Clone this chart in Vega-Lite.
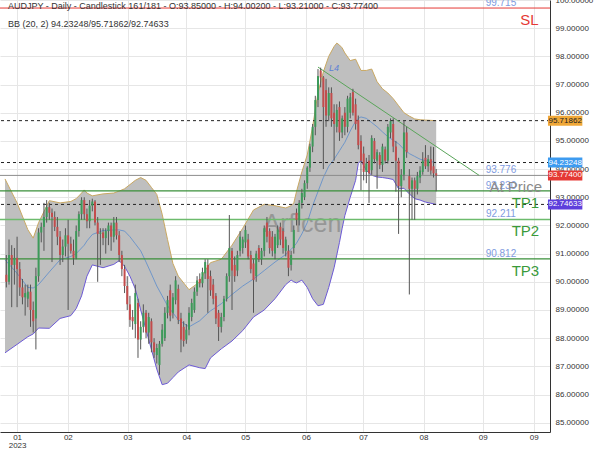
{
 "$schema": "https://vega.github.io/schema/vega-lite/v6.json",
 "width": 550, "height": 432,
 "autosize": {"type": "none"},
 "padding": {"left": 0, "top": 0, "right": 50, "bottom": 18},
 "background": "white",
 "config": {"view": {"stroke": null}, "font": "Liberation Sans", "axis": {"labelOverlap": false}},
 "resolve": {"scale": {"color": "independent"}},
 "datasets": {
  "c": [
   {"i":0,"o":90.25,"h":90.95,"l":89.8,"c":90.0},{"i":1,"o":90.0,"h":91.5,"l":89.9,"c":90.95},{"i":2,"o":90.95,"h":91.3,"l":89.1,"c":90.6},{"i":3,"o":90.6,"h":91.2,"l":89.9,"c":90.85},{"i":4,"o":90.85,"h":91.6,"l":89.1,"c":90.45},
   {"i":5,"o":90.45,"h":90.7,"l":89.5,"c":89.8},{"i":6,"o":89.8,"h":90.1,"l":89.2,"c":89.45},{"i":7,"o":89.45,"h":89.9,"l":88.8,"c":89.6},{"i":8,"o":89.4,"h":89.9,"l":89.1,"c":89.65},{"i":9,"o":89.65,"h":89.9,"l":88.4,"c":89.0},
   {"i":10,"o":89.0,"h":89.3,"l":88.2,"c":88.6},{"i":11,"o":88.7,"h":90.5,"l":87.6,"c":90.2},{"i":12,"o":90.2,"h":91.9,"l":90.0,"c":91.75},{"i":13,"o":91.75,"h":92.1,"l":91.4,"c":91.95},{"i":14,"o":91.95,"h":92.8,"l":91.1,"c":92.3},
   {"i":15,"o":92.3,"h":92.9,"l":92.1,"c":92.65},{"i":16,"o":92.65,"h":92.8,"l":92.2,"c":92.45},{"i":17,"o":92.45,"h":92.6,"l":90.7,"c":92.3},{"i":18,"o":92.3,"h":92.5,"l":91.8,"c":91.95},{"i":19,"o":91.95,"h":92.3,"l":91.3,"c":91.6},
   {"i":20,"o":91.6,"h":91.8,"l":90.6,"c":90.95},{"i":21,"o":90.95,"h":91.5,"l":90.7,"c":91.25},{"i":22,"o":91.25,"h":91.9,"l":90.9,"c":91.65},{"i":23,"o":91.65,"h":92.2,"l":89.0,"c":91.35},{"i":24,"o":91.35,"h":91.6,"l":91.0,"c":91.1},
   {"i":25,"o":91.1,"h":91.5,"l":90.6,"c":90.85},{"i":26,"o":90.85,"h":92.0,"l":90.8,"c":91.8},{"i":27,"o":91.8,"h":92.5,"l":91.6,"c":92.4},{"i":28,"o":92.4,"h":93.0,"l":92.2,"c":92.9},{"i":29,"o":92.9,"h":93.0,"l":92.2,"c":92.4},
   {"i":30,"o":92.4,"h":92.6,"l":91.9,"c":92.15},{"i":31,"o":92.15,"h":92.9,"l":91.9,"c":92.7},{"i":32,"o":92.7,"h":92.95,"l":92.5,"c":92.85},{"i":33,"o":92.85,"h":92.9,"l":92.0,"c":92.1},{"i":34,"o":92.1,"h":92.3,"l":90.0,"c":91.7},
   {"i":35,"o":91.7,"h":91.9,"l":90.6,"c":91.75},{"i":36,"o":91.75,"h":91.9,"l":91.3,"c":91.55},{"i":37,"o":91.55,"h":91.9,"l":91.0,"c":91.8},{"i":38,"o":91.8,"h":92.1,"l":91.3,"c":92.0},{"i":39,"o":92.0,"h":92.1,"l":91.1,"c":91.6},
   {"i":40,"o":91.6,"h":92.3,"l":91.4,"c":92.1},{"i":41,"o":92.1,"h":92.3,"l":91.5,"c":91.65},{"i":42,"o":91.65,"h":91.8,"l":90.7,"c":90.95},{"i":43,"o":90.95,"h":91.1,"l":90.2,"c":90.45},{"i":44,"o":90.45,"h":90.6,"l":89.6,"c":89.85},
   {"i":45,"o":89.85,"h":90.2,"l":89.0,"c":89.2},{"i":46,"o":89.2,"h":89.5,"l":88.4,"c":88.65},{"i":47,"o":88.75,"h":89.0,"l":88.3,"c":88.6},{"i":48,"o":88.5,"h":89.9,"l":88.0,"c":89.6},{"i":49,"o":89.25,"h":89.4,"l":87.3,"c":87.95},
   {"i":50,"o":87.95,"h":88.6,"l":87.6,"c":88.4},{"i":51,"o":88.4,"h":89.2,"l":88.2,"c":88.9},{"i":52,"o":88.9,"h":89.0,"l":88.0,"c":88.2},{"i":53,"o":88.2,"h":88.9,"l":87.8,"c":88.75},{"i":54,"o":88.6,"h":88.7,"l":87.5,"c":87.85},
   {"i":55,"o":87.85,"h":88.0,"l":87.3,"c":87.5},{"i":56,"o":87.4,"h":87.8,"l":87.1,"c":87.65},{"i":57,"o":87.05,"h":87.9,"l":86.7,"c":87.8},{"i":58,"o":87.8,"h":88.5,"l":87.7,"c":88.3},{"i":59,"o":88.0,"h":89.1,"l":87.9,"c":88.9},
   {"i":60,"o":88.9,"h":89.5,"l":88.7,"c":89.35},{"i":61,"o":89.7,"h":89.9,"l":88.6,"c":88.8},{"i":62,"o":88.9,"h":89.6,"l":88.7,"c":89.45},{"i":63,"o":89.35,"h":90.2,"l":89.2,"c":90.05},{"i":64,"o":89.75,"h":89.9,"l":88.5,"c":88.65},
   {"i":65,"o":88.7,"h":88.9,"l":87.5,"c":87.95},{"i":66,"o":88.4,"h":88.6,"l":87.7,"c":87.9},{"i":67,"o":87.95,"h":88.5,"l":87.8,"c":88.3},{"i":68,"o":88.3,"h":89.1,"l":88.1,"c":88.9},{"i":69,"o":88.75,"h":89.4,"l":88.6,"c":89.25},
   {"i":70,"o":89.0,"h":89.8,"l":88.9,"c":89.65},{"i":71,"o":89.65,"h":90.2,"l":89.5,"c":90.05},{"i":72,"o":90.1,"h":90.3,"l":89.8,"c":89.95},{"i":73,"o":89.95,"h":90.5,"l":89.8,"c":90.35},{"i":74,"o":90.3,"h":90.8,"l":90.1,"c":90.7},
   {"i":75,"o":90.6,"h":90.8,"l":88.9,"c":90.1},{"i":76,"o":90.2,"h":90.4,"l":89.5,"c":89.7},{"i":77,"o":89.9,"h":90.1,"l":89.2,"c":89.4},{"i":78,"o":89.5,"h":89.6,"l":88.5,"c":88.7},{"i":79,"o":88.9,"h":89.0,"l":87.9,"c":88.4},
   {"i":80,"o":88.4,"h":88.9,"l":88.2,"c":88.75},{"i":81,"o":88.75,"h":89.5,"l":88.6,"c":89.4},{"i":82,"o":89.4,"h":90.3,"l":89.3,"c":90.2},{"i":83,"o":90.2,"h":92.37,"l":90.0,"c":91.2},{"i":84,"o":91.1,"h":91.2,"l":89.0,"c":90.4},
   {"i":85,"o":90.6,"h":90.9,"l":90.0,"c":90.2},{"i":86,"o":90.4,"h":91.1,"l":90.2,"c":90.95},{"i":87,"o":91.1,"h":91.8,"l":90.9,"c":91.6},{"i":88,"o":91.2,"h":91.6,"l":91.0,"c":91.5},{"i":89,"o":91.4,"h":92.0,"l":91.2,"c":91.84},
   {"i":90,"o":91.5,"h":91.7,"l":90.8,"c":90.9},{"i":91,"o":90.95,"h":91.1,"l":90.3,"c":90.45},{"i":92,"o":90.65,"h":90.8,"l":88.9,"c":90.06},{"i":93,"o":90.2,"h":91.1,"l":90.0,"c":91.0},{"i":94,"o":91.2,"h":91.3,"l":90.7,"c":90.8},
   {"i":95,"o":90.8,"h":91.2,"l":90.6,"c":91.1},{"i":96,"o":91.1,"h":92.0,"l":90.9,"c":91.9},{"i":97,"o":92.1,"h":92.3,"l":91.4,"c":91.6},{"i":98,"o":91.8,"h":91.9,"l":91.0,"c":91.2},{"i":99,"o":91.6,"h":91.8,"l":90.9,"c":91.1},
   {"i":100,"o":91.0,"h":91.7,"l":90.8,"c":91.6},{"i":101,"o":91.3,"h":92.0,"l":91.2,"c":91.85},{"i":102,"o":91.95,"h":92.1,"l":91.3,"c":91.5},{"i":103,"o":91.8,"h":91.9,"l":91.0,"c":91.2},{"i":104,"o":91.1,"h":91.6,"l":90.9,"c":91.5},
   {"i":105,"o":91.1,"h":91.3,"l":90.2,"c":90.5},{"i":106,"o":90.6,"h":91.1,"l":90.4,"c":90.95},{"i":107,"o":91.2,"h":92.0,"l":91.0,"c":91.84},{"i":108,"o":92.45,"h":92.6,"l":92.0,"c":92.2},{"i":109,"o":92.2,"h":92.9,"l":92.0,"c":92.8},
   {"i":110,"o":92.8,"h":93.3,"l":92.6,"c":93.15},{"i":111,"o":93.0,"h":93.6,"l":92.9,"c":93.5},{"i":112,"o":93.5,"h":94.1,"l":93.3,"c":94.05},{"i":113,"o":94.05,"h":94.9,"l":93.9,"c":94.8},{"i":114,"o":94.8,"h":95.6,"l":94.6,"c":95.5},
   {"i":115,"o":95.5,"h":96.6,"l":95.2,"c":96.45},{"i":116,"o":96.45,"h":97.55,"l":96.2,"c":97.3},{"i":117,"o":97.5,"h":97.6,"l":96.9,"c":97.25},{"i":118,"o":97.25,"h":97.3,"l":94.0,"c":96.2},{"i":119,"o":96.8,"h":97.2,"l":95.5,"c":95.9},
   {"i":120,"o":95.9,"h":96.9,"l":95.7,"c":96.7},{"i":121,"o":96.7,"h":96.9,"l":95.5,"c":95.8},{"i":122,"o":96.0,"h":96.3,"l":94.3,"c":95.6},{"i":123,"o":95.5,"h":96.3,"l":95.3,"c":96.1},{"i":124,"o":96.2,"h":96.4,"l":95.0,"c":95.3},
   {"i":125,"o":95.3,"h":95.9,"l":95.1,"c":95.8},{"i":126,"o":96.0,"h":96.2,"l":95.2,"c":95.5},{"i":127,"o":95.5,"h":96.6,"l":95.3,"c":96.5},{"i":128,"o":96.0,"h":96.7,"l":95.8,"c":96.55},{"i":129,"o":96.73,"h":96.85,"l":95.9,"c":96.0},
   {"i":130,"o":96.3,"h":96.5,"l":95.4,"c":95.6},{"i":131,"o":95.74,"h":95.9,"l":94.7,"c":94.85},{"i":132,"o":95.0,"h":95.2,"l":93.25,"c":94.3},{"i":133,"o":94.55,"h":94.8,"l":93.6,"c":93.9},{"i":134,"o":93.9,"h":94.4,"l":93.5,"c":94.2},
   {"i":135,"o":94.3,"h":94.5,"l":92.8,"c":93.85},{"i":136,"o":93.96,"h":95.2,"l":93.8,"c":95.1},{"i":137,"o":95.0,"h":95.1,"l":94.2,"c":94.35},{"i":138,"o":94.3,"h":94.7,"l":93.3,"c":94.6},{"i":139,"o":94.5,"h":94.6,"l":94.0,"c":94.15},
   {"i":140,"o":94.15,"h":94.9,"l":93.9,"c":94.8},{"i":141,"o":94.7,"h":94.8,"l":94.2,"c":94.3},{"i":142,"o":94.3,"h":95.6,"l":94.2,"c":95.5},{"i":143,"o":95.3,"h":95.8,"l":95.1,"c":95.7},{"i":144,"o":95.6,"h":95.8,"l":94.6,"c":94.8},
   {"i":145,"o":94.8,"h":95.0,"l":93.2,"c":94.3},{"i":146,"o":94.3,"h":94.4,"l":91.7,"c":93.4},{"i":147,"o":93.4,"h":94.0,"l":93.0,"c":93.8},{"i":148,"o":93.8,"h":95.74,"l":93.6,"c":95.3},{"i":149,"o":95.3,"h":95.5,"l":94.4,"c":94.6},
   {"i":150,"o":93.75,"h":94.0,"l":89.55,"c":93.3},{"i":151,"o":93.3,"h":93.7,"l":92.2,"c":93.6},{"i":152,"o":93.6,"h":93.7,"l":92.2,"c":93.3},{"i":153,"o":93.3,"h":93.9,"l":93.1,"c":93.75},{"i":154,"o":93.7,"h":94.1,"l":93.5,"c":93.95},
   {"i":155,"o":93.9,"h":94.6,"l":93.8,"c":94.3},{"i":156,"o":94.4,"h":94.85,"l":94.0,"c":94.1},{"i":157,"o":94.1,"h":94.5,"l":93.9,"c":94.35},{"i":158,"o":94.35,"h":94.8,"l":93.8,"c":93.95},{"i":159,"o":94.1,"h":94.78,"l":93.7,"c":93.85},
   {"i":160,"o":93.85,"h":94.002,"l":93.21,"c":93.774}
  ],
  "bb": [
   {"i":-0.5,"u":93.65,"m":90.78,"l":87.48},{"i":4,"u":92.8,"m":90.3,"l":87.78},{"i":8,"u":91.85,"m":89.8,"l":88.05},{"i":10,"u":91.55,"m":89.78,"l":88.15},{"i":12,"u":92.1,"m":89.9,"l":88.36},
   {"i":16,"u":92.88,"m":90.35,"l":88.35},{"i":20,"u":92.8,"m":90.78,"l":88.7},{"i":24,"u":92.85,"m":90.9,"l":88.8},{"i":26,"u":92.95,"m":91.0,"l":89.05},{"i":28,"u":93.15,"m":91.2,"l":89.5},
   {"i":29,"u":93.26,"m":91.3,"l":89.85},{"i":30,"u":93.15,"m":91.45,"l":90.2},{"i":32,"u":93.05,"m":91.68,"l":90.6},{"i":36,"u":93.12,"m":91.82,"l":90.5},{"i":40,"u":93.15,"m":91.84,"l":90.62},
   {"i":42,"u":93.22,"m":91.84,"l":90.75},{"i":44,"u":93.3,"m":91.8,"l":90.55},{"i":46,"u":93.45,"m":91.6,"l":90.2},{"i":48,"u":93.6,"m":91.35,"l":89.75},{"i":50,"u":93.7,"m":91.1,"l":89.0},
   {"i":52,"u":93.6,"m":90.7,"l":88.3},{"i":54,"u":93.35,"m":90.28,"l":87.6},{"i":56,"u":93.1,"m":89.85,"l":86.9},{"i":58,"u":92.4,"m":89.5,"l":86.35},{"i":60,"u":91.5,"m":89.15,"l":86.4},
   {"i":62,"u":90.65,"m":88.9,"l":86.6},{"i":64,"u":90.2,"m":88.65,"l":86.8},{"i":68,"u":89.72,"m":88.4,"l":87.05},{"i":72,"u":90.0,"m":88.62,"l":86.95},{"i":74,"u":90.4,"m":88.8,"l":86.92},
   {"i":76,"u":90.68,"m":88.97,"l":87.3},{"i":80,"u":90.8,"m":89.22,"l":87.62},{"i":84,"u":91.3,"m":89.55,"l":87.9},{"i":88,"u":91.9,"m":89.85,"l":88.27},{"i":92,"u":92.55,"m":90.1,"l":88.75},
   {"i":96,"u":92.75,"m":90.4,"l":89.0},{"i":100,"u":92.7,"m":90.7,"l":89.4},{"i":104,"u":92.62,"m":90.97,"l":89.9},{"i":106,"u":92.7,"m":91.15,"l":90.06},{"i":107,"u":92.8,"m":91.25,"l":90.0},
   {"i":108,"u":93.2,"m":91.37,"l":89.96},{"i":110,"u":93.9,"m":91.7,"l":90.06},{"i":112,"u":94.5,"m":92.1,"l":89.8},{"i":114,"u":95.5,"m":92.7,"l":89.4},{"i":116,"u":96.7,"m":93.2,"l":89.15},
   {"i":118,"u":97.45,"m":93.7,"l":89.2},{"i":120,"u":98.0,"m":94.1,"l":89.8},{"i":122,"u":98.35,"m":94.35,"l":90.5},{"i":123,"u":98.47,"m":94.5,"l":90.95},{"i":124,"u":98.4,"m":94.65,"l":91.4},
   {"i":125,"u":98.3,"m":94.8,"l":91.9},{"i":126,"u":98.12,"m":94.95,"l":92.35},{"i":128,"u":97.85,"m":95.35,"l":93.0},{"i":130,"u":97.9,"m":95.7,"l":93.6},{"i":131,"u":97.7,"m":95.8,"l":94.2},
   {"i":132,"u":97.5,"m":95.85,"l":94.3},{"i":134,"u":97.5,"m":95.8,"l":93.95},{"i":136,"u":97.55,"m":95.65,"l":93.78},{"i":138,"u":97.1,"m":95.5,"l":93.72},{"i":140,"u":96.85,"m":95.32,"l":93.7},
   {"i":142,"u":96.7,"m":95.15,"l":93.67},{"i":144,"u":96.5,"m":95.02,"l":93.63},{"i":146,"u":96.25,"m":94.9,"l":93.3},{"i":148,"u":96.0,"m":94.7,"l":93.32},{"i":150,"u":95.88,"m":94.55,"l":93.12},
   {"i":152,"u":95.78,"m":94.45,"l":92.95},{"i":154,"u":95.75,"m":94.35,"l":92.9},{"i":156,"u":95.74,"m":94.3,"l":92.83},{"i":160,"u":95.71862,"m":94.23248,"l":92.74633}
  ],
  "vals": [
   {"i":184.1,"p":99.715,"t":"99.715"},{"i":184.1,"p":93.776,"t":"93.776"},{"i":184.1,"p":93.23,"t":"93.230"},{"i":184.1,"p":92.211,"t":"92.211"},{"i":184.1,"p":90.812,"t":"90.812"}
  ],
  "names": [
   {"i":194.7,"p":99.715,"t":"SL","k":"sl"},{"i":189.6,"p":93.776,"t":"At Price","k":"ap"},{"i":193.2,"p":93.23,"t":"TP1","k":"tp"},{"i":193.2,"p":92.211,"t":"TP2","k":"tp"},{"i":193.2,"p":90.812,"t":"TP3","k":"tp"}
  ],
  "boxes": [
   {"p":95.71862,"k":"upper"},{"p":94.23248,"k":"mid"},{"p":93.774,"k":"close"},{"p":92.74633,"k":"lower"}
  ]
 },
 "layer": [
  {
   "data": {"name": "bb"},
   "mark": {"type": "area", "color": "#bfbfbf", "opacity": 1},
   "encoding": {
    "x": {"field": "i", "type": "quantitative", "title": null, "scale": {"domain": [-0.5, 200.5], "nice": false, "zero": false},
     "axis": {"title": null, "values": [4, 22.9, 45.1, 67, 88.9, 111.5, 132.8, 155.3, 177.3, 196.3], "tickCount": 20,
      "labelExpr": "datum.value < 10 ? ['01','2023'] : datum.value < 30 ? '02' : datum.value < 50 ? '03' : datum.value < 70 ? '04' : datum.value < 95 ? '05' : datum.value < 120 ? '06' : datum.value < 140 ? '07' : datum.value < 165 ? '08' : '09'",
      "grid": true, "gridColor": "#e6e6e6", "domainColor": "#333333", "ticks": false, "labelFontSize": 8, "labelColor": "#333333", "labelPadding": 1, "labelLineHeight": 8, "labelFlush": false, "labelBaseline": "top", "labelOverlap": false}},
    "y": {"field": "u", "type": "quantitative", "title": null, "scale": {"domain": [84.67, 100], "nice": false, "zero": false},
     "axis": {"orient": "right", "title": null, "values": [85,86,87,88,89,90,91,92,93,94,95,96,97,98,99,100], "tickCount": 30, "format": ".5f",
      "grid": true, "gridColor": "#e6e6e6", "domainColor": "#333333", "ticks": false, "labelFontSize": 8, "labelColor": "#333333", "labelPadding": 5, "labelOverlap": false}},
    "y2": {"field": "l"}
   }
  },
  {
   "data": {"name": "bb"},
   "mark": {"type": "line", "color": "#c9a862", "strokeWidth": 1},
   "encoding": {"x": {"field": "i", "type": "quantitative", "title": null}, "y": {"field": "u", "type": "quantitative", "title": null}}
  },
  {
   "data": {"name": "bb"},
   "mark": {"type": "line", "color": "#6c5ad6", "strokeWidth": 1},
   "encoding": {"x": {"field": "i", "type": "quantitative", "title": null}, "y": {"field": "l", "type": "quantitative", "title": null}}
  },
  {
   "data": {"name": "bb"},
   "mark": {"type": "line", "color": "#5b8ccc", "strokeWidth": 0.8},
   "encoding": {"x": {"field": "i", "type": "quantitative", "title": null}, "y": {"field": "m", "type": "quantitative", "title": null}}
  },
  {
   "data": {"values": [{"i": 110.2, "p": 92.05, "t": "Arficen"}]},
   "mark": {"type": "text", "fontSize": 25, "color": "#6f6f6f", "opacity": 0.5, "baseline": "middle"},
   "encoding": {"x": {"field": "i", "type": "quantitative", "title": null}, "y": {"field": "p", "type": "quantitative", "title": null}, "text": {"field": "t"}}
  },
  {
   "data": {"values": [{"p": 95.71862}, {"p": 94.23248}, {"p": 92.74633}]},
   "mark": {"type": "rule", "color": "#222222", "strokeDash": [3, 3], "strokeWidth": 1},
   "encoding": {"y": {"field": "p", "type": "quantitative", "title": null}}
  },
  {
   "data": {"values": [{"p": 93.776}]},
   "mark": {"type": "rule", "color": "#8c8c8c", "strokeWidth": 1},
   "encoding": {"y": {"field": "p", "type": "quantitative", "title": null}}
  },
  {
   "data": {"values": [{"p": 93.23}, {"p": 90.812}]},
   "mark": {"type": "rule", "color": "#3a8f3a", "strokeWidth": 1.2},
   "encoding": {"y": {"field": "p", "type": "quantitative", "title": null}}
  },
  {
   "data": {"values": [{"p": 92.211}]},
   "mark": {"type": "rule", "color": "#6dbb6d", "strokeWidth": 1.5},
   "encoding": {"y": {"field": "p", "type": "quantitative", "title": null}}
  },
  {
   "data": {"values": [{"p": 99.715}]},
   "mark": {"type": "rule", "color": "#e53935", "strokeWidth": 1},
   "encoding": {"y": {"field": "p", "type": "quantitative", "title": null}}
  },
  {
   "data": {"values": [{"i": 116, "p": 97.62}, {"i": 176, "p": 93.776}]},
   "mark": {"type": "line", "color": "#5aa55a", "strokeWidth": 1},
   "encoding": {"x": {"field": "i", "type": "quantitative", "title": null}, "y": {"field": "p", "type": "quantitative", "title": null}}
  },
  {
   "data": {"name": "c"},
   "mark": {"type": "rule", "color": "#555555", "strokeWidth": 1},
   "encoding": {"x": {"field": "i", "type": "quantitative", "title": null}, "y": {"field": "l", "type": "quantitative", "title": null}, "y2": {"field": "h"}}
  },
  {
   "data": {"name": "c"},
   "mark": {"type": "bar", "size": 2},
   "encoding": {
    "x": {"field": "i", "type": "quantitative", "title": null},
    "y": {"field": "o", "type": "quantitative", "title": null},
    "y2": {"field": "c"},
    "color": {"condition": {"test": "datum.c >= datum.o", "value": "#3d9a5a"}, "value": "#c34c4c"}
   }
  },
  {
   "data": {"name": "vals"},
   "mark": {"type": "text", "fontSize": 10, "color": "#7f9be0", "dy": -5, "baseline": "middle", "align": "center"},
   "encoding": {"x": {"field": "i", "type": "quantitative", "title": null}, "y": {"field": "p", "type": "quantitative", "title": null}, "text": {"field": "t"}}
  },
  {
   "data": {"name": "names"},
   "mark": {"type": "text", "fontSize": 15, "dy": 12, "baseline": "middle", "align": "center"},
   "encoding": {
    "x": {"field": "i", "type": "quantitative", "title": null}, "y": {"field": "p", "type": "quantitative", "title": null}, "text": {"field": "t"},
    "color": {"field": "k", "type": "nominal", "scale": {"domain": ["sl", "ap", "tp"], "range": ["#e53935", "#8a8a8a", "#3a9a3a"]}, "legend": null}
   }
  },
  {
   "data": {"values": [{"i": 122, "p": 97.6, "t": "L4"}]},
   "mark": {"type": "text", "fontSize": 9, "color": "#5b7fd6", "fontStyle": "italic", "baseline": "middle"},
   "encoding": {"x": {"field": "i", "type": "quantitative", "title": null}, "y": {"field": "p", "type": "quantitative", "title": null}, "text": {"field": "t"}}
  },
  {
   "data": {"values": [{"t": "AUDJPY - Daily - Candlestick   161/181 - O:93.85000 - H:94.00200 - L:93.21000 - C:93.77400", "p": 99.787}, {"t": "BB (20, 2)   94.23248/95.71862/92.74633", "p": 99.148}]},
   "mark": {"type": "text", "fontSize": 9, "color": "#333333", "align": "left", "baseline": "middle", "dx": 3},
   "encoding": {"x": {"datum": -0.5, "type": "quantitative"}, "y": {"field": "p", "type": "quantitative", "title": null}, "text": {"field": "t"}}
  },
  {
   "data": {"name": "boxes"},
   "mark": {"type": "rect", "yOffset": -5, "y2Offset": 5},
   "encoding": {
    "x": {"datum": 201.6, "type": "quantitative"}, "x2": {"datum": 214.4},
    "y": {"field": "p", "type": "quantitative", "title": null}, "y2": {"field": "p"},
    "color": {"field": "k", "type": "nominal", "scale": {"domain": ["upper", "mid", "close", "lower"], "range": ["#f0a838", "#3d9bf0", "#e53935", "#5e3fdc"]}, "legend": null}
   }
  },
  {
   "data": {"name": "boxes"},
   "mark": {"type": "text", "fontSize": 8, "align": "center", "baseline": "middle"},
   "encoding": {
    "x": {"datum": 208.0, "type": "quantitative"},
    "y": {"field": "p", "type": "quantitative", "title": null},
    "text": {"field": "p", "format": ".5f"},
    "color": {"field": "k", "type": "nominal", "scale": {"domain": ["upper", "mid", "close", "lower"], "range": ["#222222", "#ffffff", "#ffffff", "#ffffff"]}, "legend": null}
   }
  }
 ]
}
